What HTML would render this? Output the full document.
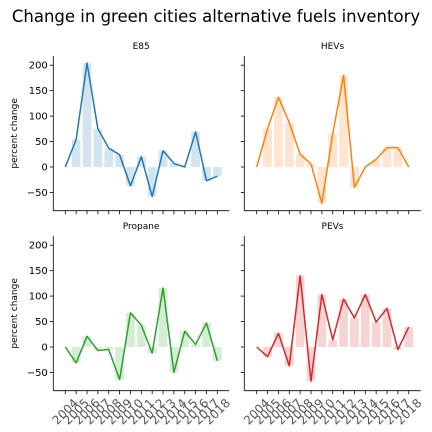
<!DOCTYPE html>
<html><head><meta charset="utf-8"><style>
body{margin:0;background:#fff}
svg{display:block;font-family:"DejaVu Sans","Liberation Sans",sans-serif}
</style></head><body>
<svg id="chart" width="432" height="432" viewBox="0 0 432 432">
<rect width="432" height="432" fill="#fff"/>
<text x="216" y="22" text-anchor="middle" font-size="16.5" fill="#000">Change in green cities alternative fuels inventory</text>
</svg>
<script>
const years = [2004,2005,2006,2007,2008,2009,2010,2011,2012,2013,2014,2015,2016,2017,2018];
const e85Values = [0,54,204,75,37,24,-37,20,-58,32,7,0,69,-27,-18];
const hevValues = [0,75,137,87,25,6,-71,65,180,-40,0,15,38,38,0];
const propaneValues = [0,-31,21,-7,-5,-64,67,43,-12,116,-50,31,5,47,-27];
const pevValues = [0,-19,27,-37,140,-67,103,14,94,57,103,49,76,-5,39];
const yTicks = [-50,0,50,100,150,200];
const panelTitles = ['E85','HEVs','Propane','PEVs'];
const colors = ['#1f77b4','#ff7f0e','#2ca02c','#d62728'];
const series = [e85Values,hevValues,propaneValues,pevValues];

const svg = document.getElementById('chart');
const NS = 'http://www.w3.org/2000/svg';
function mk(tag, attrs, parent){const e=document.createElementNS(NS,tag);for(const k in attrs)e.setAttribute(k,attrs[k]);(parent||svg).appendChild(e);return e;}

const panels = [
 {left:53.3,right:229,top:56,zero:167,xFirst:65.3,ylab:true,xlab:false},
 {left:244.3,right:420.7,top:56,zero:167,xFirst:256.7,ylab:false,xlab:false},
 {left:53.3,right:229,top:236,zero:347,xFirst:65.3,ylab:true,xlab:true},
 {left:244.3,right:420.7,top:236,zero:347,xFirst:256.7,ylab:false,xlab:true}
];
const step = 10.86, unit = 0.509, bottomOff = 43.7;

panels.forEach((p,pi)=>{
  const g = mk('g',{});
  
  
  const xs = i => p.xFirst + i*step;
  const ys = v => p.zero - v*unit;
  const bottom = p.zero + bottomOff;
  const vals = series[pi];
  vals.forEach((v,i)=>{
    const b = mk('rect',{x:xs(i)-step*0.4,width:step*0.8,y:Math.min(ys(v),ys(0)),height:Math.abs(ys(v)-ys(0)),fill:colors[pi],'fill-opacity':0.2},g);
    
    
  });
  const pts = vals.map((v,i)=>xs(i).toFixed(2)+','+ys(v).toFixed(2)).join(' ');
  const ln = mk('polyline',{points:pts,fill:'none',stroke:colors[pi],'stroke-width':1.5,'stroke-linejoin':'round'},g);
  
  
  const sp1 = mk('line',{x1:p.left,x2:p.left,y1:p.top,y2:bottom,stroke:'#000','stroke-width':0.8},g);
  
  
  const sp2 = mk('line',{x1:p.left,x2:p.right,y1:bottom,y2:bottom,stroke:'#000','stroke-width':0.8},g);
  
  
  yTicks.forEach(t=>{
    mk('line',{x1:p.left-3.5,x2:p.left,y1:ys(t),y2:ys(t),stroke:'#000','stroke-width':0.8},g);
    if(p.ylab){
      const tx = mk('text',{x:p.left-5.5,y:ys(t)+3.5,'text-anchor':'end','font-size':10,fill:'#000'},g);
      tx.textContent = t<0 ? '\u2212'+Math.abs(t) : String(t);
      
      
    }
  });
  years.forEach((yr,i)=>{
    mk('line',{x1:xs(i),x2:xs(i),y1:bottom,y2:bottom+3.5,stroke:'#000','stroke-width':0.8},g);
    if(p.xlab){
      const cx = xs(i), cy = bottom+21;
      const tx = mk('text',{x:cx,y:cy,'text-anchor':'middle','dominant-baseline':'central','font-size':12,fill:'#555',transform:`rotate(-45 ${cx} ${cy})`},g);
      tx.textContent = String(yr);
      
      
    }
  });
  const tt = mk('text',{x:(p.left+p.right)/2,y:p.top-7,'text-anchor':'middle','font-size':9,fill:'#000'},g);
  tt.textContent = panelTitles[pi];
  
  
  if(p.ylab){
    const cy=(p.top+bottom)/2;
    const yl = mk('text',{x:17,y:cy,'text-anchor':'middle','font-size':9,fill:'#000',transform:`rotate(-90 17 ${cy})`},g);
    yl.textContent='percent change';
    
    
  }
});
</script>
</body></html>
